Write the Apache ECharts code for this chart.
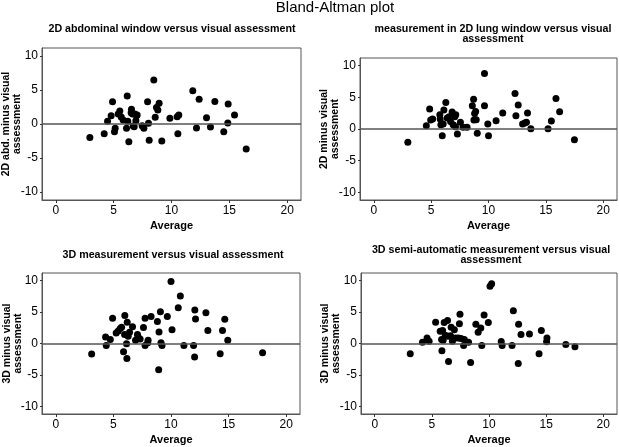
<!DOCTYPE html>
<html>
<head>
<meta charset="utf-8">
<script src="https://cdn.jsdelivr.net/npm/echarts@6/dist/echarts.min.js"></script>
<style>
html,body{margin:0;padding:0;background:#fff;}
#chart{width:619px;height:447px;}
</style>
</head>
<body>
<div id="chart"></div>
<script>
// ---- Data ----
const xTicks = [0, 5, 10, 15, 20];
const yTicks = [-10, -5, 0, 5, 10];

const mainTitle = 'Bland-Altman plot';
const panelTitles = [
  '2D abdominal window versus visual assessment',
  'measurement in 2D lung window versus visual\nassessment',
  '3D measurement versus visual assessment',
  '3D semi-automatic measurement versus visual\nassessment'
];
const yNames = [
  '2D abd. minus visual\nassessment',
  '2D minus visual\nassessment',
  '3D minus visual\nassessment',
  '3D minus visual\nassessment'
];
const xName = 'Average';

// Panel 1: 2D abdominal window
const abdAvg  = [2.94,4.18,4.47,4.78,4.9,5.07,5.13,5.39,5.53,5.65,5.82,6.17,6.11,6.22,6.31,6.54,6.51,6.63,6.69,6.77,6.83,6.97,6.92,7.03,7.46,7.61,7.93,8.01,8.07,8.47,8.59,8.7,8.82,8.93,9.16,9.86,10.49,10.63,10.55,11.84,12.16,12.39,13.03,13.37,13.75,14.52,14.87,14.9,15.45,16.46];
const abdDiff = [-2.0,-1.42,0.39,1.23,3.28,-1.13,-0.64,1.47,1.91,1.03,0.59,4.12,-0.64,0.39,-2.6,2.16,1.67,1.47,-0.29,-0.39,1.47,1.23,0.49,1.32,-0.25,-0.64,3.28,0.1,-2.4,6.47,0.98,2.45,2.06,3.04,-2.5,0.83,1.08,1.32,-1.42,4.9,-0.59,3.63,0.93,-0.44,3.33,-1.13,0.15,2.94,1.32,-3.68];

// Panel 2: 2D lung window
const lungAvg  = [2.97,4.58,4.87,4.96,5.13,5.76,5.79,5.85,5.97,6.05,6.11,6.28,6.4,6.57,6.69,6.83,6.92,7.06,7.15,7.12,7.29,7.55,7.78,8.13,8.59,8.7,8.73,8.79,8.88,8.93,9.02,9.65,9.65,9.94,10.0,10.66,11.24,12.31,12.39,12.59,12.97,13.17,13.31,13.4,13.69,15.19,15.48,15.88,16.2,17.49];
const lungDiff = [-2.09,0.52,3.14,1.41,1.57,2.25,1.57,0.68,-1.05,0.79,2.98,4.19,1.73,1.94,1.2,2.67,0.68,1.94,2.25,0.37,-0.79,1.05,0.26,0.26,3.66,4.71,1.41,2.46,2.77,1.47,-0.68,8.74,3.66,0.79,-1.05,1.31,2.51,5.6,2.09,3.77,0.79,0.94,1.05,2.51,0.05,0.05,1.26,4.82,2.72,-1.68];

// Panel 3: 3D measurement
const ct3dAvg  = [3.11,4.32,4.38,4.73,4.93,5.24,5.42,5.59,5.71,5.88,5.99,5.97,6.14,6.17,6.2,6.28,6.4,6.66,6.92,7.09,7.15,7.32,7.61,7.75,7.75,7.98,8.01,8.27,8.82,8.96,8.93,9.08,9.13,9.22,9.68,10.0,10.09,10.63,10.81,11.12,11.96,12.05,12.07,12.13,13.03,13.2,14.27,14.47,14.67,14.93,17.95];
const ct3dDiff = [-1.67,1.04,-0.31,0.63,4.01,1.67,1.98,2.4,2.6,-1.3,4.43,1.41,-0.05,-2.4,3.39,1.15,1.77,2.66,0.52,1.41,0.99,0.73,2.55,4.01,-0.31,0.1,0.52,4.27,3.49,1.82,-4.17,5.05,0.1,-0.31,4.27,9.84,2.19,5.68,7.55,-0.31,-0.31,-2.14,5.31,3.91,4.9,2.08,-1.61,2.08,3.85,0.52,-1.46];

// Panel 4: 3D semi-automatic measurement
const semiAvg  = [3.11,4.18,4.58,4.76,5.33,5.73,5.85,5.88,5.94,5.99,6.08,6.17,6.37,6.43,6.46,6.63,6.69,6.8,6.97,7.09,7.32,7.41,7.46,7.55,7.78,7.84,8.21,8.39,8.85,9.05,9.28,9.37,9.57,9.94,10.09,10.23,11.07,11.15,12.02,12.13,12.59,12.56,12.8,13.54,14.38,14.58,15.07,15.04,16.72,17.52];
const semiDiff = [-1.61,0.21,0.89,0.36,3.39,1.93,0.63,-1.15,2.08,0.52,3.33,1.3,3.65,1.15,-2.86,1.25,2.6,0.36,2.19,0.89,0.89,3.13,4.64,0.78,-0.31,0.63,0.21,-3.02,3.07,1.77,2.45,-0.31,4.53,3.33,9.11,9.48,0.31,-0.31,-0.31,5.21,3.07,-3.18,1.41,1.51,-1.61,2.08,0.89,0.26,-0.16,-0.52];

const panels = [
  {avg: abdAvg, diff: abdDiff},
  {avg: lungAvg, diff: lungDiff},
  {avg: ct3dAvg, diff: ct3dDiff},
  {avg: semiAvg, diff: semiDiff}
];

// ---- Layout ----
const FONT = '"Liberation Sans", Arial, sans-serif';
const grids = [
  {left: 42, top: 48, width: 259, height: 152},
  {left: 360, top: 58, width: 257, height: 142},
  {left: 42, top: 273, width: 258, height: 141},
  {left: 361, top: 273, width: 256, height: 141}
];
const titlePos = [
  {x: 172, y: 29},
  {x: 493, y: 34},
  {x: 173, y: 255},
  {x: 491, y: 255}
];
const yNameGap = [20, 20, 19, 20];

const chart = echarts.init(document.getElementById('chart'), null, {renderer: 'canvas'});

const option = {
  animation: false,
  backgroundColor: '#fff',
  textStyle: {fontFamily: FONT},
  grid: grids.map(g => Object.assign({show: true, borderColor: '#555', borderWidth: 1, containLabel: false, outerBoundsMode: 'none'}, g)),
  xAxis: grids.map((g, i) => ({
    type: 'value', gridIndex: i, min: -1.2, max: 21.2,
    name: xName, nameLocation: 'middle', nameGap: 20, nameMoveOverlap: false,
    nameTextStyle: {fontFamily: FONT, fontWeight: 'bold', fontSize: 11, color: '#000'},
    axisLine: {show: true, onZero: false, lineStyle: {color: '#555', width: 1}},
    axisTick: {show: true, length: 3, customValues: xTicks, lineStyle: {color: '#333'}},
    axisLabel: {show: true, customValues: xTicks, margin: 5, fontFamily: FONT, fontSize: 12, color: '#000'},
    splitLine: {show: false}
  })),
  yAxis: grids.map((g, i) => ({
    type: 'value', gridIndex: i, min: -11.2, max: 11.2,
    name: yNames[i], nameLocation: 'middle', nameGap: yNameGap[i], nameRotate: 90, nameMoveOverlap: false,
    nameTextStyle: {fontFamily: FONT, fontWeight: 'bold', fontSize: 10.5, lineHeight: 10.5, color: '#000'},
    axisLine: {show: true, onZero: false, lineStyle: {color: '#555', width: 1}},
    axisTick: {show: true, length: 2, customValues: yTicks, lineStyle: {color: '#333'}},
    axisLabel: {show: true, customValues: yTicks, margin: 4, fontFamily: FONT, fontSize: 12, color: '#000'},
    splitLine: {show: false}
  })),
  series: panels.map((p, i) => ({
    type: 'scatter', xAxisIndex: i, yAxisIndex: i,
    data: p.avg.map((x, k) => [x, p.diff[k]]),
    symbol: 'circle', symbolSize: 7,
    itemStyle: {color: '#000', opacity: 1},
    emphasis: {disabled: true},
    markLine: {
      silent: true, symbol: 'none', animation: false,
      label: {show: false},
      lineStyle: {color: '#555', width: 1.5, type: 'solid'},
      data: [{yAxis: 0}]
    }
  })),
  graphic: [
    {type: 'text', x: 335, y: 8, style: {text: mainTitle, fontFamily: FONT, fontSize: 15, fill: '#000', align: 'center', verticalAlign: 'middle'}}
  ].concat(titlePos.map((t, i) => ({
    type: 'text', x: t.x, y: t.y,
    style: {text: panelTitles[i], fontFamily: FONT, fontSize: 10.7, fontWeight: 'bold', lineHeight: 10.5, fill: '#000', align: 'center', verticalAlign: 'middle'}
  })))
};
chart.setOption(option);
</script>
</body>
</html>
